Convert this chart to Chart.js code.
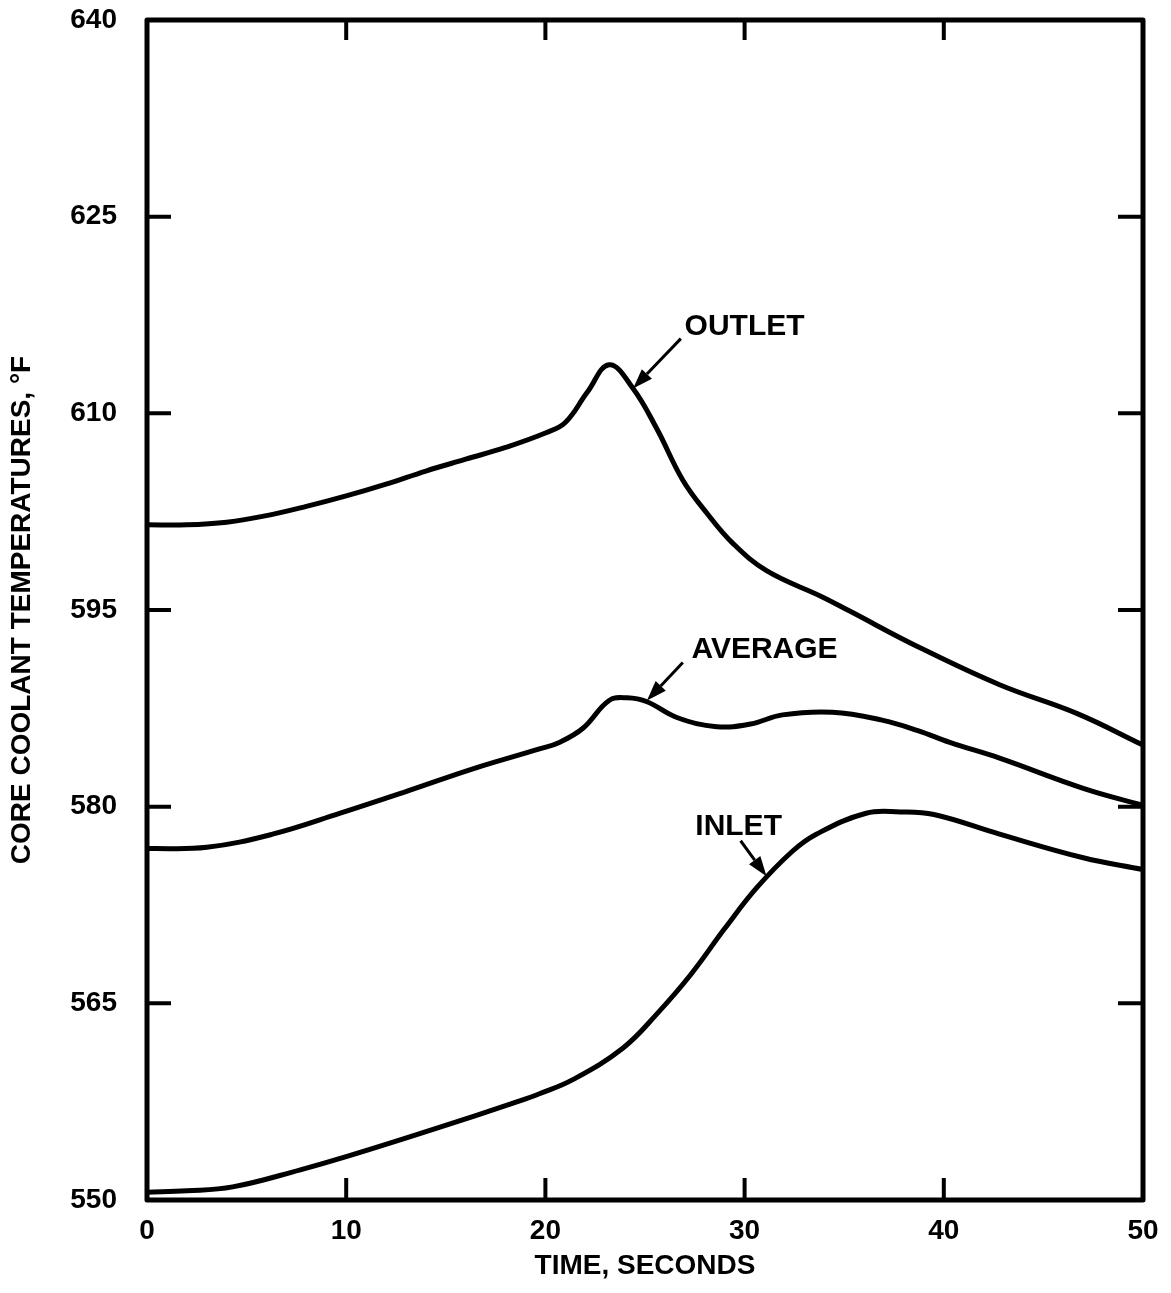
<!DOCTYPE html>
<html>
<head>
<meta charset="utf-8">
<title>Core coolant temperatures</title>
<script src="https://cdn.jsdelivr.net/npm/chart.js@4.4.1/dist/chart.umd.min.js"></script>
<style>
    html, body { margin: 0; padding: 0; background: #fff; }
    #wrap { width: 1171px; height: 1293px; }
</style>
</head>
<body>
<div id="wrap"><canvas id="chart" width="1171" height="1293"></canvas></div>
<script>
'use strict';

// values (time in s, temperature in °F)
const outletTime = [0, 2, 4, 6, 8, 10, 12, 14, 16, 18, 20, 21, 22.1, 23.2, 24.4, 25.6, 26.9, 28.1, 29.4, 31.1, 33.9, 35.3, 38.7, 42.8, 46.7, 50];
const outletTemp = [601.5, 601.5, 601.7, 602.2, 602.9, 603.7, 604.6, 605.6, 606.5, 607.4, 608.5, 609.3, 611.6, 613.7, 611.9, 608.8, 604.9, 602.4, 600.1, 598.0, 596.0, 594.9, 592.2, 589.3, 587.1, 584.7];

const averageTime = [0, 3, 6.3, 9.7, 13.1, 16.4, 19.7, 20.7, 21.9, 23.2, 24.1, 25.1, 26.6, 28.6, 30.3, 31.9, 34.4, 36.9, 38.7, 40.3, 42.8, 47, 50];
const averageTemp = [576.8, 576.9, 577.9, 579.5, 581.2, 582.9, 584.4, 584.9, 586.0, 588.1, 588.3, 588.0, 586.8, 586.1, 586.3, 587.0, 587.2, 586.6, 585.8, 584.9, 583.7, 581.4, 580.1];

const inletTime = [0, 2, 4.3, 7.7, 10, 14.4, 18.6, 19.7, 21.4, 23.9, 25.6, 27.3, 29, 30.6, 32.4, 33.6, 36.1, 37.8, 39.5, 42.8, 47, 50];
const inletTemp = [550.6, 550.7, 551.0, 552.3, 553.3, 555.4, 557.5, 558.1, 559.2, 561.6, 564.2, 567.2, 570.7, 573.8, 576.6, 577.9, 579.5, 579.6, 579.4, 577.9, 576.1, 575.2];

const xTicks = [0, 10, 20, 30, 40, 50];
const yTicks = [550, 565, 580, 595, 610, 625, 640];

// callouts: label text, label centre, arrow tail, arrow tip (data coords)
const calloutText = ['OUTLET', 'AVERAGE', 'INLET'];
const calloutLabelAt = [[30.0, 616.6], [31.0, 592.0], [29.7, 578.5]];
const calloutArrowFrom = [[26.8, 615.7], [26.9, 591.0], [29.8, 577.4]];
const calloutArrowTo = [[24.4, 611.9], [25.1, 588.1], [31.1, 574.7]];

const toPoints = (xs, ys) => xs.map((x, i) => ({ x: x, y: ys[i] }));

const FONT = '"Liberation Sans", Arial, Helvetica, sans-serif';

const lineStyle = {
    borderColor: '#000',
    borderWidth: 5,
    pointRadius: 0,
    fill: false,
    tension: 0.4
};

// frame with inward ticks on all four sides
const framePlugin = {
    id: 'frame',
    afterDatasetsDraw(chart) {
        const ctx = chart.ctx;
        const a = chart.chartArea;
        const xs = chart.scales.x;
        const ys = chart.scales.y;
        ctx.save();
        ctx.strokeStyle = '#000';
        ctx.lineWidth = 5;
        ctx.lineJoin = 'round';
        ctx.strokeRect(a.left, a.top, a.right - a.left, a.bottom - a.top);
        ctx.lineWidth = 4;
        ctx.beginPath();
        xTicks.slice(1, -1).forEach(v => {
            const px = xs.getPixelForValue(v);
            ctx.moveTo(px, a.bottom);
            ctx.lineTo(px, a.bottom - 22);
            ctx.moveTo(px, a.top);
            ctx.lineTo(px, a.top + 20);
        });
        yTicks.slice(1, -1).forEach(v => {
            const py = ys.getPixelForValue(v);
            ctx.moveTo(a.left, py);
            ctx.lineTo(a.left + 24, py);
            ctx.moveTo(a.right, py);
            ctx.lineTo(a.right - 25, py);
        });
        ctx.stroke();
        ctx.restore();
    }
};

const calloutPlugin = {
    id: 'callouts',
    afterDatasetsDraw(chart) {
        const ctx = chart.ctx;
        const xs = chart.scales.x;
        const ys = chart.scales.y;
        ctx.save();
        ctx.fillStyle = '#000';
        ctx.strokeStyle = '#000';
        ctx.textAlign = 'center';
        ctx.textBaseline = 'middle';
        ctx.font = 'bold 30px ' + FONT;
        calloutText.forEach((txt, i) => {
            ctx.fillText(txt, xs.getPixelForValue(calloutLabelAt[i][0]), ys.getPixelForValue(calloutLabelAt[i][1]));

            const x0 = xs.getPixelForValue(calloutArrowFrom[i][0]);
            const y0 = ys.getPixelForValue(calloutArrowFrom[i][1]);
            const x1 = xs.getPixelForValue(calloutArrowTo[i][0]);
            const y1 = ys.getPixelForValue(calloutArrowTo[i][1]);
            const ang = Math.atan2(y1 - y0, x1 - x0);
            const head = 20;
            const half = 7;
            const bx = x1 - head * Math.cos(ang);
            const by = y1 - head * Math.sin(ang);

            ctx.lineWidth = 3;
            ctx.beginPath();
            ctx.moveTo(x0, y0);
            ctx.lineTo(bx, by);
            ctx.stroke();

            ctx.beginPath();
            ctx.moveTo(x1, y1);
            ctx.lineTo(bx + half * Math.sin(ang), by - half * Math.cos(ang));
            ctx.lineTo(bx - half * Math.sin(ang), by + half * Math.cos(ang));
            ctx.closePath();
            ctx.fill();
        });
        ctx.restore();
    }
};

const ctx = document.getElementById('chart').getContext('2d');
new Chart(ctx, {
    type: 'line',
    data: {
        datasets: [
            Object.assign({ label: 'OUTLET', data: toPoints(outletTime, outletTemp) }, lineStyle),
            Object.assign({ label: 'AVERAGE', data: toPoints(averageTime, averageTemp) }, lineStyle),
            Object.assign({ label: 'INLET', data: toPoints(inletTime, inletTemp) }, lineStyle)
        ]
    },
    options: {
        responsive: false,
        animation: false,
        layout: { padding: { left: 0, right: 28, top: 20, bottom: 0 } },
        plugins: {
            legend: { display: false },
            tooltip: { enabled: false }
        },
        scales: {
            x: {
                type: 'linear',
                min: 0,
                max: 50,
                afterBuildTicks: scale => { scale.ticks = xTicks.map(v => ({ value: v })); },
                afterFit: scale => { scale.height = 93; },
                grid: { display: false },
                border: { display: false },
                ticks: {
                    color: '#000',
                    padding: 6,
                    maxRotation: 0,
                    font: { family: FONT, size: 28, weight: 'bold' }
                },
                title: {
                    display: true,
                    text: 'TIME, SECONDS',
                    color: '#000',
                    padding: { top: 4, bottom: 10 },
                    font: { family: FONT, size: 28, weight: 'bold' }
                }
            },
            y: {
                type: 'linear',
                min: 550,
                max: 640,
                afterBuildTicks: scale => { scale.ticks = yTicks.map(v => ({ value: v })); },
                afterFit: scale => {
                    scale.width = 147;
                    scale.paddingTop = 0;
                    scale.paddingBottom = 0;
                },
                grid: { display: false },
                border: { display: false },
                ticks: {
                    color: '#000',
                    padding: 22,
                    font: { family: FONT, size: 28, weight: 'bold' }
                },
                title: {
                    display: true,
                    text: 'CORE COOLANT TEMPERATURES, °F',
                    color: '#000',
                    padding: { top: 5, bottom: 0 },
                    font: { family: FONT, size: 28, weight: 'bold' }
                }
            }
        }
    },
    plugins: [framePlugin, calloutPlugin]
});
</script>
</body>
</html>
